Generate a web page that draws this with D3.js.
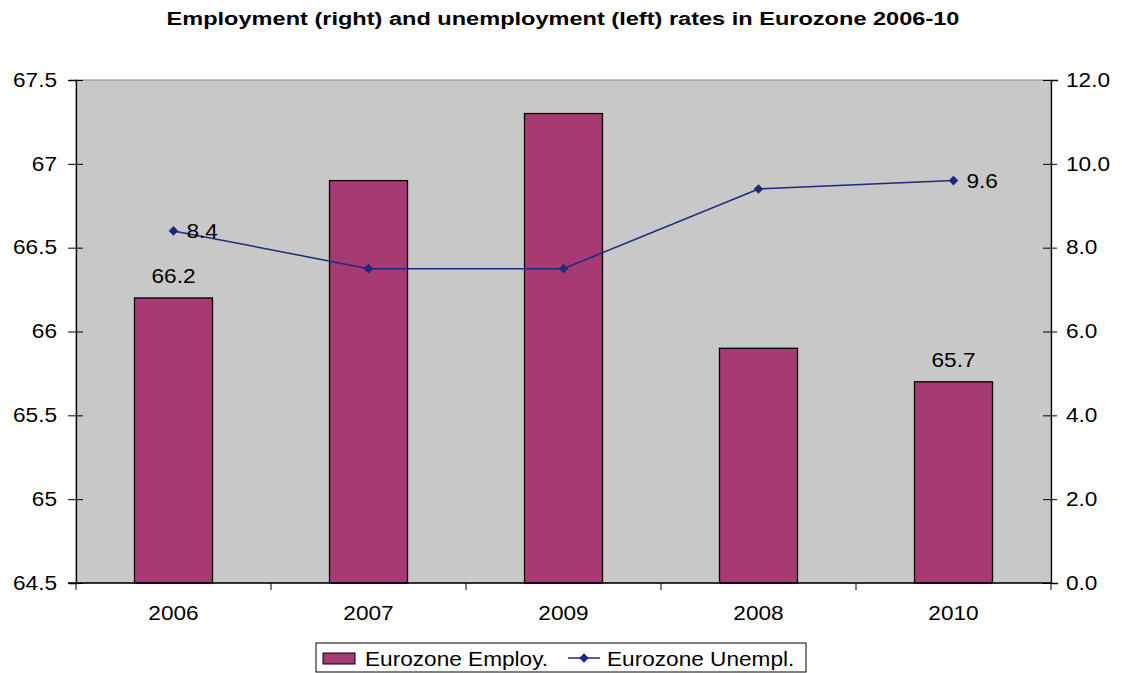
<!DOCTYPE html>
<html>
<head>
<meta charset="utf-8">
<script src="https://cdn.jsdelivr.net/npm/d3@7"></script>
<style>
  body { margin: 0; background: #fff; }
  svg { display: block; font-family: "Liberation Sans", Arial, sans-serif; }
</style>
</head>
<body>
<svg id="chart" width="1122" height="673"></svg>
<script>
// Categories (in the order they are plotted)
const years = ["2006", "2007", "2009", "2008", "2010"];
// Employment rate (%), left axis
const employment = [66.2, 66.9, 67.3, 65.9, 65.7];
// Unemployment rate (%), right axis
const unemployment = [8.4, 7.5, 7.5, 9.4, 9.6];
// Axis ticks
const leftTicks = [64.5, 65, 65.5, 66, 66.5, 67, 67.5];
const rightTicks = [0, 2, 4, 6, 8, 10, 12];
// Which points carry value labels
const employLabelIdx = [0, 4];
const unemplLabelIdx = [0, 4];

const svg = d3.select("#chart");
const m = { left: 76, right: 1051, top: 80, bottom: 583 };
const FS = 19.5;       // body text size
const WIDE = 1.16;     // horizontal stretch of the wide text face

// Stretch text horizontally around its anchor point
function stretch(sel, k) {
  sel.each(function () {
    const t = d3.select(this);
    const x = +t.attr("x") || 0, y = +t.attr("y") || 0;
    t.attr("transform", `translate(${x},${y}) scale(${k},1) translate(${-x},${-y})`);
  });
}

const x = d3.scaleBand().domain(years).range([m.left, m.right]).paddingInner(0.6).paddingOuter(0.3);
const xPoint = d => x(d) + x.bandwidth() / 2;
const yL = d3.scaleLinear().domain([64.5, 67.5]).range([m.bottom, m.top]);
const yR = d3.scaleLinear().domain([0, 12]).range([m.bottom, m.top]);

const barColor = "#a63a72";
const lineColor = "#1c2a7c";

// Title
svg.append("text")
  .attr("x", 563).attr("y", 25)
  .attr("text-anchor", "middle")
  .attr("font-size", 19).attr("font-weight", "bold")
  .attr("fill", "#000")
  .text("Employment (right) and unemployment (left) rates in Eurozone 2006-10")
  .call(stretch, 1.24);

// Plot background
svg.append("rect")
  .attr("x", m.left).attr("y", m.top)
  .attr("width", m.right - m.left).attr("height", m.bottom - m.top)
  .attr("fill", "#c8c8c8")
  .attr("stroke", "#8c8c8c").attr("stroke-width", 1);

// Bars
svg.selectAll("rect.bar").data(employment).enter().append("rect")
  .attr("class", "bar")
  .attr("x", (d, i) => x(years[i]))
  .attr("y", d => yL(d))
  .attr("width", x.bandwidth())
  .attr("height", d => yL(64.5) - yL(d))
  .attr("fill", barColor)
  .attr("stroke", "#000").attr("stroke-width", 1.3);

// Left axis
const leftAxis = d3.axisLeft(yL).tickValues(leftTicks).tickSize(7)
  .tickFormat(d => d3.format("")(d));
const gL = svg.append("g").attr("transform", `translate(${m.left},0)`).call(leftAxis);
gL.select(".domain").attr("stroke", "#000").attr("stroke-width", 1.3);
gL.selectAll(".tick line").attr("stroke", "#000").attr("x2", -8).attr("x1", 7);
gL.selectAll(".tick text").attr("font-size", FS).attr("fill", "#000")
  .attr("font-family", "Liberation Sans, Arial, sans-serif").attr("x", -19)
  .call(stretch, WIDE);

// Right axis
const rightAxis = d3.axisRight(yR).tickValues(rightTicks).tickSize(7)
  .tickFormat(d3.format(".1f"));
const gR = svg.append("g").attr("transform", `translate(${m.right},0)`).call(rightAxis);
gR.select(".domain").attr("stroke", "#000").attr("stroke-width", 1.3);
gR.selectAll(".tick line").attr("stroke", "#000").attr("x1", -8).attr("x2", 6);
gR.selectAll(".tick text").attr("font-size", FS).attr("fill", "#000")
  .attr("font-family", "Liberation Sans, Arial, sans-serif").attr("x", 15)
  .call(stretch, WIDE);

// Bottom axis
const bottomAxis = d3.scaleLinear().domain([0, years.length]).range([m.left, m.right]);
const gB = svg.append("g");
gB.append("line").attr("x1", m.left - 8).attr("x2", m.right).attr("y1", m.bottom).attr("y2", m.bottom)
  .attr("stroke", "#000").attr("stroke-width", 1.3);
gB.selectAll("line.tk").data(d3.range(years.length + 1)).enter().append("line")
  .attr("x1", d => bottomAxis(d)).attr("x2", d => bottomAxis(d))
  .attr("y1", m.bottom).attr("y2", m.bottom + 7)
  .attr("stroke", "#000");
gB.selectAll("text").data(years).enter().append("text")
  .attr("x", d => xPoint(d)).attr("y", 620)
  .attr("text-anchor", "middle").attr("font-size", FS).attr("fill", "#000")
  .text(d => d)
  .call(stretch, WIDE);

// Unemployment line
const line = d3.line().x((d, i) => xPoint(years[i])).y(d => yR(d));
svg.append("path").datum(unemployment)
  .attr("d", line).attr("fill", "none")
  .attr("stroke", lineColor).attr("stroke-width", 1.5);

// Diamond markers: a square turned by 45 degrees
const diamond = d3.symbol().type(d3.symbolSquare).size(46);
svg.selectAll("path.pt").data(unemployment).enter().append("path")
  .attr("class", "pt")
  .attr("d", diamond)
  .attr("transform", (d, i) => `translate(${xPoint(years[i])},${yR(d)}) rotate(45)`)
  .attr("fill", lineColor);

// Value labels
svg.selectAll("text.elab").data(employLabelIdx).enter().append("text")
  .attr("class", "elab")
  .attr("x", i => xPoint(years[i])).attr("y", i => yL(employment[i]) - 15)
  .attr("text-anchor", "middle").attr("font-size", FS).attr("fill", "#000")
  .text(i => d3.format(".1f")(employment[i]))
  .call(stretch, WIDE);

svg.selectAll("text.ulab").data(unemplLabelIdx).enter().append("text")
  .attr("class", "ulab")
  .attr("x", i => xPoint(years[i]) + 13).attr("y", i => yR(unemployment[i]) + 7)
  .attr("text-anchor", "start").attr("font-size", FS).attr("fill", "#000")
  .text(i => d3.format(".1f")(unemployment[i]))
  .call(stretch, WIDE);

// Legend
const lg = svg.append("g");
lg.append("rect").attr("x", 316).attr("y", 643).attr("width", 490).attr("height", 29)
  .attr("fill", "#fff").attr("stroke", "#000").attr("stroke-width", 1);
lg.append("rect").attr("x", 323).attr("y", 653).attr("width", 32).attr("height", 11)
  .attr("fill", barColor).attr("stroke", "#000").attr("stroke-width", 1);
lg.append("text").attr("x", 365).attr("y", 666).attr("font-size", FS).attr("fill", "#000")
  .text("Eurozone Employ.").call(stretch, WIDE);
lg.append("line").attr("x1", 568).attr("x2", 600).attr("y1", 658).attr("y2", 658)
  .attr("stroke", lineColor).attr("stroke-width", 1.5);
lg.append("path").attr("d", diamond).attr("transform", "translate(584,658) rotate(45)").attr("fill", lineColor);
lg.append("text").attr("x", 607).attr("y", 666).attr("font-size", FS).attr("fill", "#000")
  .text("Eurozone Unempl.").call(stretch, WIDE);
</script>
</body>
</html>
